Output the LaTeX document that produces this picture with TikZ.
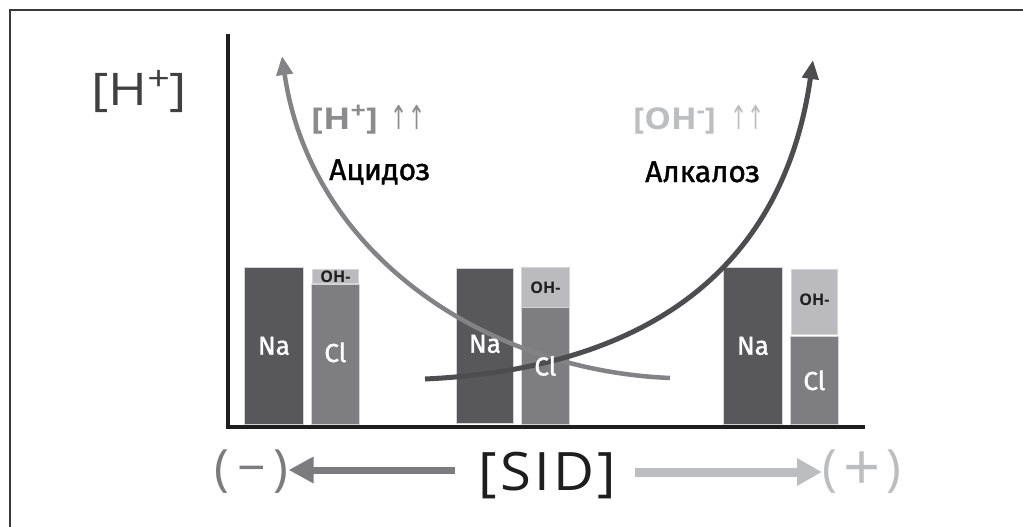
\documentclass[tikz,border=0pt]{standalone}
\usepackage{fontspec}
\setmainfont{Open Sans}
\newfontfamily\widefont{Open Sans}[LetterSpace=6]
\newfontfamily\barfont{Fira Sans}[FakeBold=1.4]
\newfontfamily\namefont{Fira Sans}[FakeBold=1.2]
\newfontfamily\symfont{DejaVu Sans}
\usetikzlibrary{arrows.meta}

\definecolor{naC}{HTML}{58585B}
\definecolor{clC}{HTML}{7E7E81}
\definecolor{ohC}{HTML}{BBBBBE}
\definecolor{edgeC}{HTML}{D4D4D6}
\definecolor{acidC}{HTML}{838385}
\definecolor{alkC}{HTML}{4D4D4F}
\definecolor{axisC}{HTML}{1E1E1E}
\definecolor{frameC}{HTML}{3A3A3A}
\definecolor{minusC}{HTML}{7C7C7E}
\definecolor{plusC}{HTML}{BCBDBF}
\definecolor{acidTxt}{HTML}{8C8C8E}
\definecolor{alkTxt}{HTML}{BDBEC0}

\newcommand{\fs}[1]{\fontsize{#1}{#1}\selectfont}
\newcommand{\raisedsym}[1]{\raisebox{0.34em}{\scalebox{0.75}{#1}}}
\newcommand{\upup}{{\symfont\mdseries\scalebox{0.68}[1.1]{↑\kern1pt↑}}}

\tikzset{
  bar/.style={rectangle, inner sep=0pt, anchor=north west, draw=edgeC, line width=0.8pt},
  barlabel/.style={inner sep=0pt, text=white, font=\barfont\fs{26}},
  ohlabel/.style={inner sep=0pt, text=axisC, font=\bfseries\fs{16}},
  curve/.style={line width=4.5pt, line cap=butt},
  bigtxt/.style={inner sep=0pt, anchor=base west},
}

\begin{document}
\begin{tikzpicture}[x=1pt,y=-1pt]
\useasboundingbox (0,0) rectangle (1023,527);
\fill[white] (0,0) rectangle (1023,527);

% outer frame (runs off the page on the right and bottom)
\draw[frameC, line width=1.8pt] (10,10) rectangle (1040,545);

% bars: Na | Cl + OH-
\node[bar, fill=naC, minimum width=59pt, minimum height=157pt] (na1) at (244,267) {};
\node[bar, fill=ohC, minimum width=46pt, minimum height=14pt]  (oh1) at (312,269) {};
\node[bar, fill=clC, minimum width=48pt, minimum height=140pt] (cl1) at (311,284) {};

\node[bar, fill=naC, minimum width=57pt, minimum height=155pt] (na2) at (456,268) {};
\node[bar, fill=ohC, minimum width=48pt, minimum height=40pt]  (oh2) at (521,267) {};
\node[bar, fill=clC, minimum width=48pt, minimum height=117pt] (cl2) at (521,307) {};

\node[bar, fill=naC, minimum width=59pt, minimum height=157pt] (na3) at (723,267) {};
\node[bar, fill=ohC, minimum width=46pt, minimum height=65pt]  (oh3) at (791,269) {};
\node[bar, fill=clC, minimum width=48pt, minimum height=88pt]  (cl3) at (790,336) {};

% axes
\coordinate (ytop) at (228,34);
\coordinate (orig) at (228,427);
\coordinate (xend) at (865,427);
\draw[axisC, line width=4pt] (ytop) -- (orig);
\draw[axisC, line width=4.5pt] (226,427) -- (xend);

% curves
\coordinate (acidS) at (670,378);
\coordinate (acidE) at (282,56);
\coordinate (alkS) at (425,379);
\coordinate (alkE) at (813,60);
\draw[curve, acidC, -{Triangle[length=19pt,width=16pt]}]
  (acidS) .. controls (480,370) and (310,250) .. (acidE);
\draw[curve, alkC, line width=5pt, -{Triangle[length=19pt,width=16pt]}]
  (alkS) .. controls (620,370) and (780,290) .. (alkE);

% bar labels
\node[barlabel] (na1t) at (na1.center) {Na};
\node[barlabel] (cl1t) at ([yshift=2pt]cl1.center) {Cl};
\node[ohlabel]  (oh1t) at (oh1.center) {OH-};
\node[barlabel] (na2t) at ([yshift=2pt]na2.center) {Na};
\node[barlabel] (cl2t) at (cl2.center) {Cl};
\node[ohlabel]  (oh2t) at (oh2.center) {OH-};
\node[barlabel] (na3t) at (na3.center) {Na};
\node[barlabel] (cl3t) at (cl3.center) {Cl};
\node[ohlabel]  (oh3t) at ([yshift=2pt]oh3.center) {OH-};

% axis title
\node[bigtxt, text=axisC!85!white, font=\fs{45}] (hy) at (91,106)
  {\scalebox{1.17}[1]{[H\raisedsym{+}]}};

% region captions
\node[bigtxt, text=acidTxt, font=\bfseries\fs{30}] (acidlab) at (311,129)
  {\scalebox{1.2}[1]{[H\raisedsym{+}]}\hspace{13pt}\upup};
\node[bigtxt, text=alkTxt, font=\bfseries\fs{30}] (alklab) at (633,129)
  {\scalebox{1.12}[1]{[OH\raisedsym{-}]}\hspace{14pt}\upup};
\node[bigtxt, text=black, font=\namefont\fs{30}] (acidname) at (329,180) {Ацидоз};
\node[bigtxt, text=black, font=\namefont\fs{30}] (alkname) at (645,182) {Алкалоз};

% SID scale
\node[bigtxt, text=axisC, font=\widefont\fs{53}] (sid) at (478,490)
  {\scalebox{1.06}[1]{[SID]}};
\node[bigtxt, text=minusC, font=\fs{50}] (minus) at (214,485) {(\kern8pt−\kern8pt)};
\node[bigtxt, text=plusC, font=\fs{50}] (plus) at (822,485)
  {(\kern6pt\raisebox{-0.1em}{\scalebox{1.3}{+}}\kern6pt)};
\coordinate (lt) at (455,470);
\coordinate (rt) at (635,472);
\draw[minusC, line width=7pt, -{Triangle[length=25pt,width=25pt]}]
  (lt) -- (minus.east |- lt);
\draw[plusC, line width=9pt, -{Triangle[length=25pt,width=26pt]}]
  (rt) -- (plus.west |- rt);
\end{tikzpicture}
\end{document}
